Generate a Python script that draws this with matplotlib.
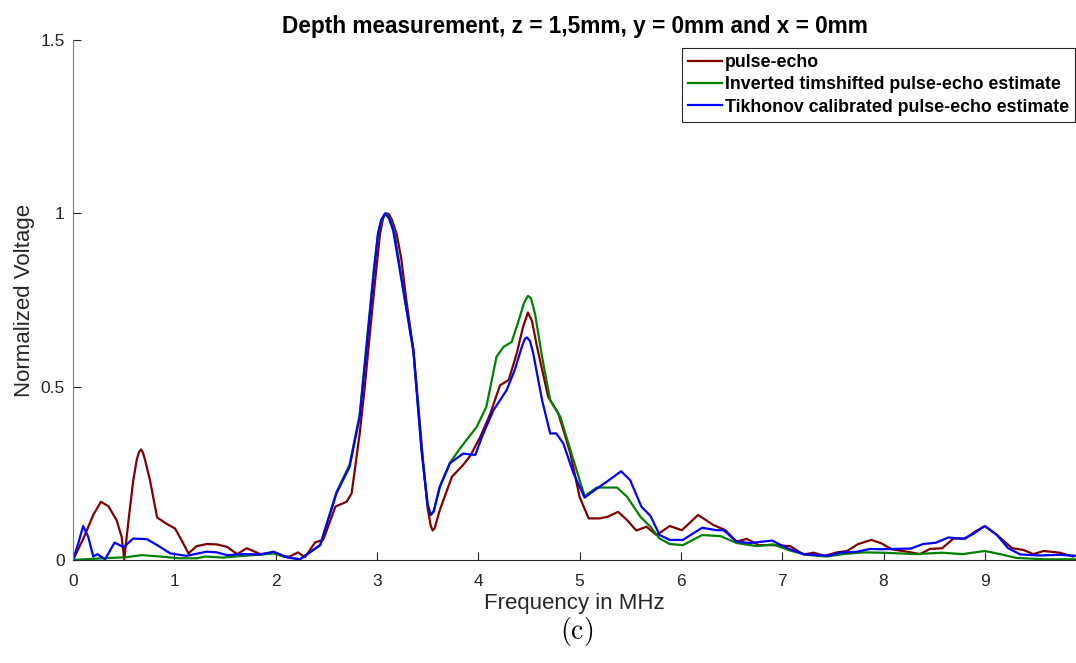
import matplotlib
matplotlib.use('Agg')
from matplotlib import pyplot as plt

# pulse-echo (dark red)
freq_pe = [0, 0.1, 0.2, 0.276, 0.35, 0.43, 0.48, 0.506, 0.55, 0.595,
           0.63, 0.65, 0.671, 0.69, 0.71, 0.76, 0.83, 0.92, 1.007, 1.07,
           1.14, 1.22, 1.32, 1.42, 1.52, 1.62, 1.715, 1.85, 1.98, 2.08,
           2.14, 2.22, 2.29, 2.39, 2.47, 2.59, 2.70, 2.75, 2.83, 2.88,
           2.93, 2.98, 3.03, 3.06, 3.08, 3.10, 3.12, 3.15, 3.195, 3.24,
           3.29, 3.36, 3.41, 3.46, 3.50, 3.53, 3.55, 3.57, 3.62, 3.74,
           3.85, 3.92, 4.02, 4.12, 4.215, 4.30, 4.38, 4.44, 4.49, 4.53,
           4.58, 4.69, 4.79, 4.91, 5.00, 5.09, 5.20, 5.28, 5.38, 5.47,
           5.56, 5.66, 5.76, 5.89, 6.01, 6.17, 6.32, 6.44, 6.55, 6.65,
           6.77, 6.91, 7.08, 7.21, 7.31, 7.42, 7.54, 7.64, 7.75, 7.88,
           7.98, 8.08, 8.23, 8.36, 8.46, 8.58, 8.69, 8.81, 8.90, 9.00,
           9.12, 9.27, 9.38, 9.48, 9.58, 9.74, 9.87]
volt_pe = [0, 0.06, 0.13, 0.168, 0.155, 0.115, 0.067, 0.002, 0.12, 0.23,
           0.29, 0.31, 0.319, 0.31, 0.29, 0.23, 0.123, 0.105, 0.091, 0.058,
           0.019, 0.040, 0.046, 0.045, 0.038, 0.017, 0.034, 0.017, 0.021, 0.01,
           0.01, 0.022, 0.008, 0.051, 0.058, 0.154, 0.168, 0.192, 0.365, 0.50,
           0.653, 0.80, 0.94, 0.985, 0.997, 1.0, 0.997, 0.98, 0.94, 0.87,
           0.75, 0.605, 0.44, 0.269, 0.15, 0.10, 0.085, 0.092, 0.144, 0.24,
           0.274, 0.30, 0.355, 0.423, 0.504, 0.519, 0.596, 0.67, 0.714, 0.69,
           0.615, 0.471, 0.423, 0.307, 0.182, 0.120, 0.120, 0.125, 0.139, 0.115,
           0.085, 0.096, 0.072, 0.098, 0.086, 0.130, 0.101, 0.086, 0.053, 0.061,
           0.043, 0.043, 0.040, 0.016, 0.021, 0.012, 0.022, 0.026, 0.046, 0.058,
           0.048, 0.031, 0.024, 0.017, 0.032, 0.034, 0.062, 0.062, 0.081, 0.098,
           0.072, 0.034, 0.029, 0.017, 0.026, 0.021, 0.010]

# inverted timeshifted estimate (green)
freq_inv = [0, 0.30, 0.52, 0.68, 0.86, 1.05, 1.22, 1.31, 1.48, 1.68,
            1.88, 1.98, 2.08, 2.24, 2.44, 2.60, 2.73, 2.83, 2.88, 2.93,
            2.97, 3.01, 3.05, 3.09, 3.13, 3.17, 3.26, 3.36, 3.44, 3.50,
            3.53, 3.56, 3.62, 3.72, 3.82, 3.985, 4.08, 4.18, 4.25, 4.33,
            4.41, 4.45, 4.49, 4.52, 4.56, 4.63, 4.71, 4.81, 4.91, 5.05,
            5.17, 5.37, 5.47, 5.60, 5.70, 5.79, 5.89, 6.02, 6.21, 6.39,
            6.55, 6.75, 6.91, 7.08, 7.24, 7.44, 7.60, 7.80, 8.0, 8.32,
            8.58, 8.78, 9.00, 9.15, 9.31, 9.6, 9.9]
volt_inv = [0, 0.005, 0.008, 0.014, 0.01, 0.005, 0.005, 0.01, 0.007, 0.012,
            0.016, 0.019, 0.01, 0.002, 0.043, 0.195, 0.275, 0.42, 0.57, 0.72,
            0.84, 0.94, 0.985, 1.0, 0.985, 0.95, 0.78, 0.60, 0.32, 0.16,
            0.13, 0.14, 0.21, 0.28, 0.322, 0.384, 0.442, 0.586, 0.615, 0.629,
            0.701, 0.74, 0.762, 0.755, 0.711, 0.586, 0.461, 0.413, 0.317, 0.184,
            0.209, 0.209, 0.182, 0.125, 0.096, 0.062, 0.046, 0.043, 0.072, 0.069,
            0.049, 0.040, 0.045, 0.027, 0.015, 0.010, 0.017, 0.022, 0.021, 0.017,
            0.021, 0.017, 0.026, 0.017, 0.006, 0.002, 0.002]

# Tikhonov calibrated estimate (blue)
freq_tik = [0, 0.052, 0.10, 0.15, 0.20, 0.24, 0.316, 0.41, 0.50, 0.595,
            0.73, 0.83, 0.96, 1.12, 1.32, 1.42, 1.52, 1.68, 1.85, 1.98,
            2.12, 2.24, 2.44, 2.60, 2.73, 2.83, 2.88, 2.93, 2.97, 3.01,
            3.04, 3.08, 3.12, 3.16, 3.26, 3.36, 3.44, 3.50, 3.53, 3.56,
            3.62, 3.72, 3.85, 3.97, 4.05, 4.15, 4.28, 4.36, 4.43, 4.46,
            4.48, 4.51, 4.54, 4.63, 4.71, 4.77, 4.84, 4.94, 5.05, 5.17,
            5.27, 5.41, 5.50, 5.61, 5.70, 5.79, 5.89, 6.02, 6.21, 6.35,
            6.42, 6.55, 6.68, 6.90, 7.05, 7.21, 7.45, 7.57, 7.74, 7.87,
            7.97, 8.27, 8.39, 8.52, 8.64, 8.79, 8.89, 9.00, 9.12, 9.23,
            9.35, 9.55, 9.74, 9.9]
volt_tik = [0, 0.048, 0.098, 0.067, 0.01, 0.017, 0.002, 0.05, 0.037, 0.062,
            0.06, 0.043, 0.019, 0.012, 0.024, 0.022, 0.014, 0.017, 0.016, 0.024,
            0.007, 0.002, 0.043, 0.192, 0.269, 0.413, 0.56, 0.711, 0.83, 0.94,
            0.98, 1.0, 0.985, 0.951, 0.778, 0.605, 0.317, 0.16, 0.13, 0.14,
            0.211, 0.279, 0.307, 0.303, 0.365, 0.432, 0.49, 0.548, 0.615, 0.638,
            0.642, 0.632, 0.60, 0.461, 0.365, 0.365, 0.336, 0.25, 0.18, 0.206,
            0.226, 0.256, 0.23, 0.154, 0.127, 0.072, 0.058, 0.058, 0.093, 0.086,
            0.086, 0.053, 0.049, 0.056, 0.034, 0.017, 0.012, 0.021, 0.024, 0.032,
            0.031, 0.033, 0.046, 0.050, 0.065, 0.061, 0.076, 0.098, 0.072, 0.034,
            0.016, 0.013, 0.015, 0.012]

labels = ['pulse-echo',
          'Inverted timshifted pulse-echo estimate',
          'Tikhonov calibrated pulse-echo estimate']
x_ticks = [0, 1, 2, 3, 4, 5, 6, 7, 8, 9]
y_ticks = [0, 0.5, 1, 1.5]
y_ticklabels = ['0', '0.5', '1', '1.5']

plt.rcParams['font.family'] = ['Liberation Sans', 'DejaVu Sans']
plt.rcParams['mathtext.fontset'] = 'cm'

fig = plt.figure(figsize=(10.76, 6.63), dpi=100)
ax = fig.add_axes([73 / 1076, 103 / 663, 1003 / 1076, 520 / 663])

ax.plot(freq_pe, volt_pe, color='#800000', lw=1.6, label=labels[0])
ax.plot(freq_inv, volt_inv, color='#008000', lw=1.6, label=labels[1])
ax.plot(freq_tik, volt_tik, color='#0000ff', lw=1.6, label=labels[2])

ax.set_xlim(0, 9.9)
ax.set_ylim(0, 1.5)
ax.set_xticks(x_ticks)
ax.set_yticks(y_ticks)
ax.set_yticklabels(y_ticklabels)

for side in ['top', 'right']:
    ax.spines[side].set_visible(False)
ax.spines['bottom'].set_color('#262626')
ax.spines['left'].set_color('#808080')
ax.tick_params(direction='in', length=6, width=0.8, colors='#262626',
               labelsize=12.5)
ax.tick_params(axis='x', pad=10)
ax.tick_params(axis='y', pad=6)

ax.set_title('Depth measurement, z = 1,5mm, y = 0mm and x = 0mm',
             fontsize=16.3, fontweight='bold', pad=5)
ax.set_xlabel('Frequency in MHz', fontsize=16, color='#262626', labelpad=3)
ax.set_ylabel('Normalized Voltage', fontsize=16, color='#262626', labelpad=4)

leg = ax.legend(loc='upper right', bbox_to_anchor=(0.999, 0.985),
                borderaxespad=0, fancybox=False, framealpha=1,
                edgecolor='#262626', prop={'weight': 'bold', 'size': 12.8},
                handlelength=1.9, handletextpad=0.15, labelspacing=0.3,
                borderpad=0.35)
leg.get_frame().set_linewidth(0.8)

fig.text(0.536, 1 - 631 / 663, r'$\mathrm{(c)}$', fontsize=20,
         ha='center', va='center')

fig.savefig('out.png', dpi=100)
